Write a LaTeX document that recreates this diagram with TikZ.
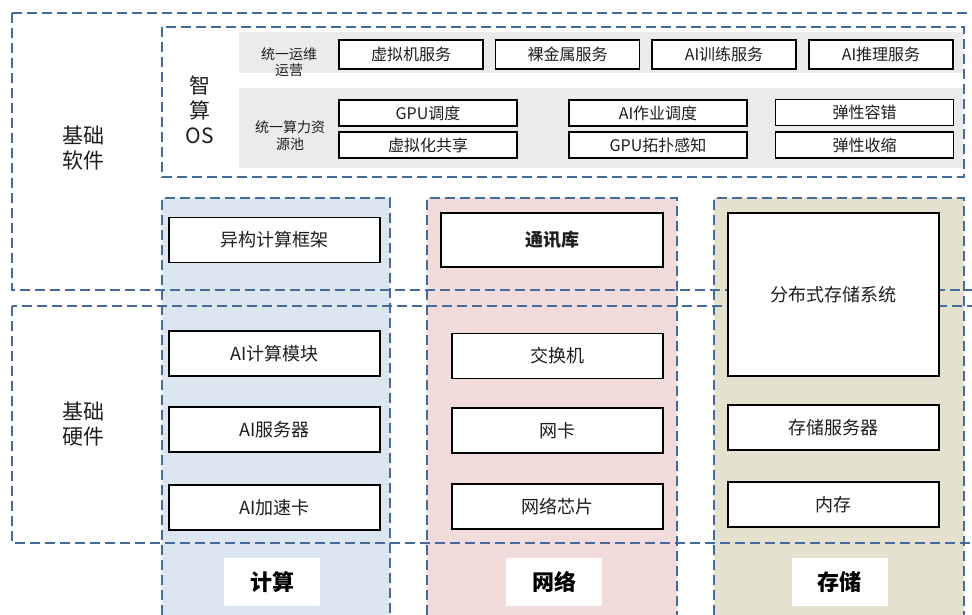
\documentclass[tikz,border=0pt]{standalone}
\usepackage{fontspec}
\setmainfont{Noto Sans CJK SC}
\definecolor{dblue}{RGB}{68,106,158}
\definecolor{cblue}{RGB}{220,230,241}
\definecolor{cpink}{RGB}{242,220,219}
\definecolor{ctan}{RGB}{228,225,206}
\definecolor{band}{RGB}{235,235,235}
\definecolor{txt}{RGB}{30,30,30}
\begin{document}
\begin{tikzpicture}[x=1pt,y=-1pt,
  dashbox/.style={draw=dblue, line width=1.3pt, dash pattern=on 10pt off 5pt},
  colbox/.style={dashbox},
  bx/.style={draw=black, line width=1.5pt, fill=white, inner sep=0pt, text=txt,
    font=\fontsize{16}{18}\selectfont},
  topbx/.style={bx, minimum width=144pt, minimum height=29pt},
  midbx/.style={bx, minimum width=178pt, minimum height=26pt},
  colbx/.style={bx, minimum width=211pt, minimum height=45pt, font=\fontsize{18}{20}\selectfont},
  biglbl/.style={align=center, text=txt, font=\fontsize{21}{25}\selectfont},
  smlbl/.style={align=center, text=txt, font=\fontsize{14}{16.5}\selectfont},
  catlbl/.style={fill=white, inner sep=0pt, minimum width=96pt, minimum height=48pt,
    text=black, font=\fontsize{22}{24}\selectfont\bfseries}]
\useasboundingbox (0,0) rectangle (972,614);
\clip (0,0) rectangle (972,614);
% columns
\fill[cblue] (162,198) rectangle (390,630);
\fill[cpink] (427,198) rectangle (677,630);
\fill[ctan] (714,198) rectangle (964,630);
\draw[colbox] (162,630) -- (162,198) -- (390,198) -- (390,630);
\draw[colbox] (427,630) -- (427,198) -- (677,198) -- (677,630);
\draw[colbox] (714,630) -- (714,198) -- (964,198) -- (964,630);
% layers
\draw[dashbox] (12,13) rectangle (1000,290);
\draw[dashbox] (12,306) rectangle (1000,543);
% OS
\draw[dashbox] (162,27) rectangle (964,177);
\fill[band] (239,32) rectangle (963,73);
\fill[band] (239,88) rectangle (963,168);
\node[biglbl] (sw) at (83,148) {基础\\软件};
\node[biglbl] (hw) at (83,424) {基础\\硬件};
\node[biglbl] (os) at (200,110) {智\\算\\OS};
\node[smlbl] (ops) at (289,62) {统一运维\\运营};
\node[smlbl] (pool) at (290,135.5) {统一算力资\\源池};
\node[topbx] (vm) at (411,54.5) {虚拟机服务};
\node[topbx] (bm) at (567.5,54.5) {裸金属服务};
\node[topbx] (train) at (724,54.5) {AI训练服务};
\node[topbx] (infer) at (881,54.5) {AI推理服务};
\node[midbx] (gpu) at (428,113) {GPU调度};
\node[midbx] (virt) at (428,145) {虚拟化共享};
\node[midbx] (job) at (658,113) {AI作业调度};
\node[midbx] (topo) at (658,145) {GPU拓扑感知};
\node[midbx] (ft) at (864.5,112.5) {弹性容错};
\node[midbx] (shr) at (864.5,145) {弹性收缩};
% column boxes
\node[colbx] (het) at (274.5,240) {异构计算框架};
\node[colbx, minimum width=222pt, minimum height=54pt, font=\fontsize{18}{20}\selectfont\bfseries] (comm) at (552,240) {通讯库};
\node[colbx, minimum height=163pt] (dist) at (833.5,294.5) {分布式存储系统};
\node[colbx] (aim) at (274.5,353.5) {AI计算模块};
\node[colbx] (sw2) at (557.5,356) {交换机};
\node[colbx] (srv) at (274.5,429.5) {AI服务器};
\node[colbx] (nic) at (557.5,430.5) {网卡};
\node[colbx] (ssrv) at (833.5,427.5) {存储服务器};
\node[colbx] (acc) at (274.5,507.5) {AI加速卡};
\node[colbx] (chip) at (557.5,506.5) {网络芯片};
\node[colbx] (mem) at (833.5,504.5) {内存};
% category labels
\node[catlbl] (c1) at (272,582) {计算};
\node[catlbl] (c2) at (554,582) {网络};
\node[catlbl] (c3) at (839.5,582) {存储};
\end{tikzpicture}
\end{document}
